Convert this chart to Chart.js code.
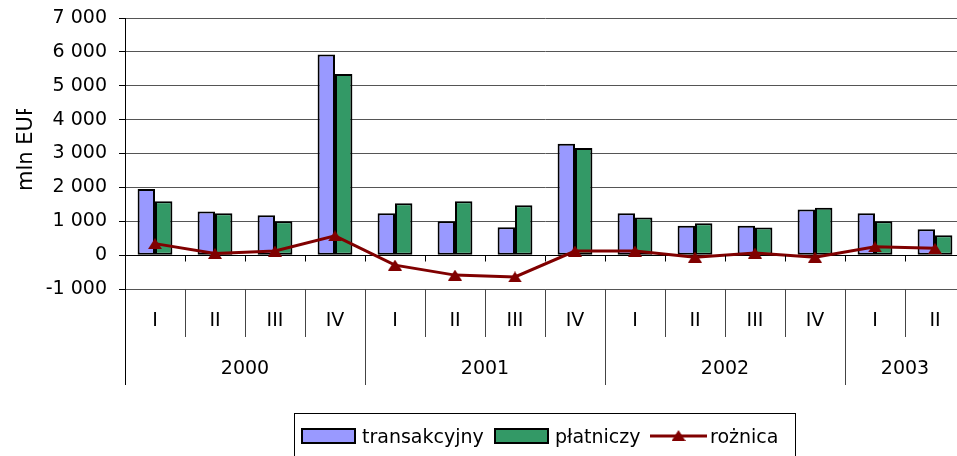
<!DOCTYPE html>
<html><head><meta charset="utf-8">
<script src="https://cdn.jsdelivr.net/npm/chart.js@4/dist/chart.umd.min.js"></script>
<style>
html,body{margin:0;padding:0;overflow:hidden;background:#fff;width:957px;height:456px}
#wrap{position:absolute;left:0;top:0;width:970px;height:456px}
</style>
</head><body><div id="wrap"><canvas id="c" width="970" height="456"></canvas></div>
<script>
const quarters = ['I','II','III','IV','I','II','III','IV','I','II','III','IV','I','II'];
const years = ['2000','2001','2002','2003'];
const yearSpans = [4, 4, 4, 2];
const transakcyjny = [1950, 1290, 1180, 5920, 1235, 1000, 820, 3285, 1235, 870, 870, 1345, 1235, 765];
const platniczy   = [1590, 1235, 1000, 5345, 1530, 1590, 1470, 3165, 1110, 940, 815, 1400, 1000, 590];
const roznica     = [340, 50, 120, 570, -295, -590, -645, 120, 120, -60, 60, -60, 245, 200];
const yTickValues = [-1000, 0, 1000, 2000, 3000, 4000, 5000, 6000, 7000];
const yTickLabels = ['-1 000', '0', '1 000', '2 000', '3 000', '4 000', '5 000', '6 000', '7 000'];
const seriesNames = ['transakcyjny', 'płatniczy', 'rożnica'];
const yTitle = 'mln EUR';

const FONT = "'DejaVu Sans', sans-serif";
const FS = 19;
const C_T = '#9999FF', C_P = '#339966', C_R = '#800000';

function makeTriangle(w, h, color) {
  const c = document.createElement('canvas');
  c.width = w; c.height = h;
  const g = c.getContext('2d');
  g.fillStyle = color;
  g.beginPath(); g.moveTo(w / 2, 0); g.lineTo(w, h); g.lineTo(0, h); g.closePath(); g.fill();
  return c;
}
const tri = makeTriangle(14, 11, C_R);

const decor = {
  id: 'decor',
  afterDraw(chart) {
    const ctx = chart.ctx, xs = chart.scales.x, ys = chart.scales.y, a = chart.chartArea;
    const n = quarters.length;
    const bnd = k => Math.round(xs.getPixelForValue(k - 0.5)) + 0.5;
    const y0 = Math.round(ys.getPixelForValue(0)) + 0.5;
    const yb = Math.round(ys.getPixelForValue(-1000)) + 0.5;
    const axX = Math.round(a.left) + 0.5;
    ctx.save();
    // ticks on zero line
    ctx.strokeStyle = '#000'; ctx.lineWidth = 1;
    ctx.beginPath();
    for (let k = 1; k <= n; k++) { const px = bnd(k); ctx.moveTo(px, y0); ctx.lineTo(px, y0 + 6); }
    ctx.stroke();
    // axis extension
    ctx.beginPath(); ctx.moveTo(axX, yb); ctx.lineTo(axX, 385); ctx.stroke();
    // separators
    ctx.strokeStyle = '#444';
    ctx.beginPath();
    const yearBounds = new Set(); let acc = 0;
    yearSpans.forEach(s => { acc += s; yearBounds.add(acc); });
    for (let k = 1; k <= n; k++) {
      const px = bnd(k);
      ctx.moveTo(px, yb); ctx.lineTo(px, yearBounds.has(k) ? 385 : 337);
    }
    ctx.stroke();
    // labels
    ctx.fillStyle = '#000';
    ctx.font = FS + 'px ' + FONT;
    ctx.textAlign = 'center'; ctx.textBaseline = 'middle';
    quarters.forEach((q, i) => ctx.fillText(q, xs.getPixelForValue(i), 321));
    acc = 0;
    years.forEach((yr, j) => {
      const mid = xs.getPixelForValue(acc + (yearSpans[j] - 1) / 2);
      ctx.fillText(yr, mid, 369);
      acc += yearSpans[j];
    });
    // y title (clipped at top like the original)
    ctx.save();
    ctx.beginPath(); ctx.rect(0, 109, 60, 120); ctx.clip();
    ctx.translate(27, 191); ctx.rotate(-Math.PI / 2);
    ctx.font = '21px ' + FONT;
    ctx.textAlign = 'left';
    ctx.fillText(yTitle, 0, 0);
    ctx.restore();
    // legend
    ctx.strokeStyle = '#000'; ctx.lineWidth = 1;
    ctx.strokeRect(294.5, 413.5, 501, 60);
    ctx.font = FS + 'px ' + FONT;
    ctx.textAlign = 'left'; ctx.textBaseline = 'alphabetic';
    const items = [302, 495, 650];
    [C_T, C_P].forEach((col, i) => {
      ctx.fillStyle = col; ctx.fillRect(items[i], 429, 53, 14);
      ctx.lineWidth = 2; ctx.strokeStyle = '#000'; ctx.strokeRect(items[i], 429, 53, 14);
      ctx.fillStyle = '#000'; ctx.fillText(seriesNames[i], items[i] + 60, 443);
    });
    ctx.strokeStyle = C_R; ctx.lineWidth = 3;
    ctx.beginPath(); ctx.moveTo(items[2], 436); ctx.lineTo(items[2] + 57, 436); ctx.stroke();
    ctx.drawImage(tri, items[2] + 28.5 - 7, 436 - 6);
    ctx.fillStyle = '#000'; ctx.fillText(seriesNames[2], items[2] + 60, 443);
    ctx.restore();
  }
};

new Chart(document.getElementById('c'), {
  data: {
    labels: quarters,
    datasets: [
      { type: 'line', label: seriesNames[2], data: roznica, borderColor: C_R, backgroundColor: C_R,
        borderWidth: 3, pointStyle: tri, pointRadius: 7, tension: 0, order: 0 },
      { type: 'bar', label: seriesNames[0], data: transakcyjny, backgroundColor: C_T, borderColor: '#000',
        borderWidth: 2, borderSkipped: false, order: 1 },
      { type: 'bar', label: seriesNames[1], data: platniczy, backgroundColor: C_P, borderColor: '#000',
        borderWidth: 2, borderSkipped: false, order: 1 }
    ]
  },
  options: {
    responsive: false, animation: false, devicePixelRatio: 1,
    layout: { autoPadding: false, padding: { left: 0, top: 18, right: 5, bottom: 167 } },
    datasets: { bar: { categoryPercentage: 0.58, barPercentage: 1.0 } },
    plugins: { legend: { display: false }, tooltip: { enabled: false } },
    scales: {
      x: { display: false, offset: true },
      y: {
        min: -1000, max: 7000,
        afterFit: s => { s.width = 125; },
        afterBuildTicks: s => { s.ticks = yTickValues.map(v => ({ value: v })); },
        ticks: {
          padding: 12, color: '#000', font: { family: FONT, size: FS, lineHeight: 0.5 },
          callback: (v) => yTickLabels[yTickValues.indexOf(v)]
        },
        grid: {
          color: c => c.tick && c.tick.value === 0 ? '#000' : '#555',
          lineWidth: 1, tickLength: 6, tickColor: '#000'
        },
        border: { color: '#000', width: 1 },
        title: { display: false }
      }
    }
  },
  plugins: [decor]
});
</script>
</body></html>
